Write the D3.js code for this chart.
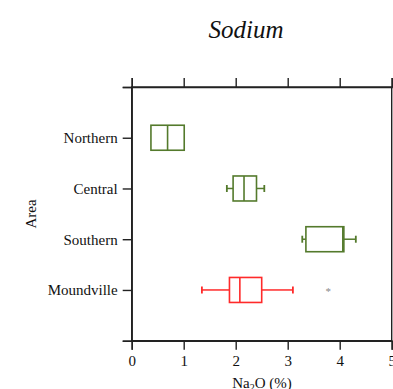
<!DOCTYPE html>
<html>
<head>
<meta charset="utf-8">
<script src="https://cdn.jsdelivr.net/npm/d3@7"></script>
<style>
  body { margin: 0; background: #fff; }
  svg text { font-family: "Liberation Serif", "Times New Roman", serif !important; }
</style>
</head>
<body>
<div id="chart"></div>
<script>
// values
var areas = ["Northern", "Central", "Southern", "Moundville"];
var whiskLow = [0.37, 1.83, 3.28, 1.35];
var q1 = [0.37, 1.95, 3.35, 1.88];
var median = [0.69, 2.16, 4.06, 2.08];
var q3 = [1.01, 2.40, 4.08, 2.50];
var whiskHigh = [1.01, 2.55, 4.31, 3.10];
var outliers = [[], [], [], [3.78]];
var boxColors = ["#547a2c", "#547a2c", "#547a2c", "#ff2a2a"];
var xTicks = [0, 1, 2, 3, 4, 5];

var w = 393, h = 389;
var plotL = 131.7, plotR = 391.7, plotT = 87, plotB = 340.7;

var svg = d3.select("#chart")
  .append("svg")
  .attr("width", w)
  .attr("height", h);

var x = d3.scaleLinear().domain([0, 5]).range([plotL, plotR]);
// empty slot above and below the four areas
var y = d3.scalePoint().domain(["_top"].concat(areas).concat(["_bot"])).range([plotT, plotB]);

// frame
svg.append("rect")
  .attr("x", plotL).attr("y", plotT)
  .attr("width", plotR - plotL).attr("height", plotB - plotT)
  .attr("fill", "none").attr("stroke", "#222").attr("stroke-width", 1.4);

//Axes
var xAxis = svg.append("g")
  .attr("transform", "translate(0," + plotB + ")")
  .call(d3.axisBottom(x).tickValues(xTicks).tickFormat(d3.format("d")).tickSize(9).tickPadding(6));
var xTop = svg.append("g")
  .attr("transform", "translate(0," + plotT + ")")
  .call(d3.axisTop(x).tickValues(xTicks).tickFormat("").tickSize(9));
var yAxis = svg.append("g")
  .attr("transform", "translate(" + plotL + ",0)")
  .call(d3.axisLeft(y).tickFormat(function(d) { return d.charAt(0) == "_" ? "" : d; }).tickSize(9).tickPadding(5));

[xAxis, xTop, yAxis].forEach(function(g) {
  g.attr("font-family", "Liberation Serif").attr("font-size", 15);
  g.select(".domain").attr("stroke", "#222").attr("stroke-width", 1.4);
  g.selectAll(".tick line").attr("stroke", "#222").attr("stroke-width", 1.4);
  g.selectAll("text").attr("fill", "#111");
});

var boxH = 25, capH = 7;
var data = areas.map(function(a, i) {
  return { area: a, lo: whiskLow[i], q1: q1[i], med: median[i], q3: q3[i], hi: whiskHigh[i], out: outliers[i], color: boxColors[i] };
});

var boxes = svg.selectAll("g.box")
  .data(data)
  .enter()
  .append("g")
  .attr("class", "box")
  .attr("transform", function(d) { return "translate(0," + y(d.area) + ")"; });

// whiskers
boxes.append("line")
  .attr("x1", function(d) { return x(d.lo); })
  .attr("x2", function(d) { return x(d.q1); })
  .attr("stroke", function(d) { return d.color; }).attr("stroke-width", 1.5);
boxes.append("line")
  .attr("x1", function(d) { return x(d.q3); })
  .attr("x2", function(d) { return x(d.hi); })
  .attr("stroke", function(d) { return d.color; }).attr("stroke-width", 1.5);
boxes.filter(function(d) { return d.lo < d.q1; })
  .append("line")
  .attr("x1", function(d) { return x(d.lo); })
  .attr("x2", function(d) { return x(d.lo); })
  .attr("y1", -capH / 2).attr("y2", capH / 2)
  .attr("stroke", function(d) { return d.color; }).attr("stroke-width", 1.8);
boxes.filter(function(d) { return d.hi > d.q3; })
  .append("line")
  .attr("x1", function(d) { return x(d.hi); })
  .attr("x2", function(d) { return x(d.hi); })
  .attr("y1", -capH / 2).attr("y2", capH / 2)
  .attr("stroke", function(d) { return d.color; }).attr("stroke-width", 1.8);

// box
boxes.append("rect")
  .attr("x", function(d) { return x(d.q1); })
  .attr("width", function(d) { return x(d.q3) - x(d.q1); })
  .attr("y", -boxH / 2)
  .attr("height", boxH)
  .attr("fill", "#fff")
  .attr("stroke", function(d) { return d.color; })
  .attr("stroke-width", 1.6);

// median
boxes.append("line")
  .attr("x1", function(d) { return x(d.med); })
  .attr("x2", function(d) { return x(d.med); })
  .attr("y1", -boxH / 2).attr("y2", boxH / 2)
  .attr("stroke", function(d) { return d.color; })
  .attr("stroke-width", 1.6);

// outliers
boxes.selectAll("text.out")
  .data(function(d) { return d.out; })
  .enter()
  .append("text")
  .attr("class", "out")
  .attr("x", function(d) { return x(d); })
  .attr("y", 5)
  .attr("text-anchor", "middle")
  .attr("fill", "#888")
  .attr("font-size", 11)
  .text("*");

// titles
svg.append("text")
  .attr("x", 246).attr("y", 38)
  .attr("text-anchor", "middle")
  .attr("font-size", 25)
  .attr("font-style", "italic")
  .attr("fill", "#111")
  .text("Sodium");

var xl = svg.append("text")
  .attr("x", 262).attr("y", 388)
  .attr("text-anchor", "middle")
  .attr("font-size", 15)
  .attr("fill", "#111");
xl.append("tspan").text("Na");
xl.append("tspan").attr("dy", 3).attr("font-size", 10).text("2");
xl.append("tspan").attr("dy", -3).text("O (%)");

svg.append("text")
  .attr("transform", "translate(36,214) rotate(-90)")
  .attr("text-anchor", "middle")
  .attr("font-size", 15)
  .attr("fill", "#111")
  .text("Area");
</script>
</body>
</html>
